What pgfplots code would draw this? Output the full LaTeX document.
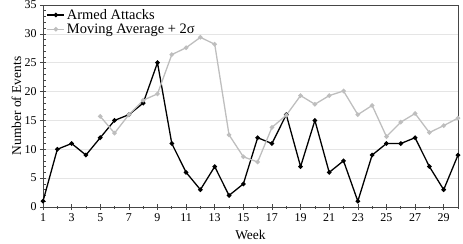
\documentclass[border=0pt]{standalone}
\usepackage{pgfplots}
\pgfplotsset{compat=1.18}
\usepackage{fontspec}
\setmainfont{Liberation Serif}
\definecolor{mavg}{RGB}{190,190,190}
\definecolor{axc}{RGB}{70,70,70}
\begin{document}
\begin{tikzpicture}
\begin{axis}[
  scale only axis,
  width=415bp, height=202bp,
  xmin=1, xmax=30, ymin=0, ymax=35,
  xtick={1,3,...,29},
  minor xtick={2,4,...,30},
  ytick={0,5,...,35},
  minor ytick={0,1,...,35},
  ymajorgrids,
  major grid style={draw=black!10, line width=0.6pt},
  axis line style={draw=axc, line width=0.8pt},
  tick style={draw=axc, line width=0.6pt},
  major tick length=6bp,
  minor tick length=3bp,
  xtick align=center,
  ytick align=center,
  minor y tick style={/pgfplots/tick align=inside},
  xtick pos=bottom, ytick pos=left,
  /pgf/number format/assume math mode=true,
  tick label style={font=\fontsize{12}{13}\selectfont},
  label style={font=\fontsize{13.5}{15}\selectfont},
  xlabel={Week}, ylabel={Number of Events},
  xlabel style={at={(axis description cs:0.5,-0.139)}, anchor=center},
  ylabel style={at={(axis description cs:-0.064,0.5)}, anchor=center},
  legend style={draw=none, fill=none, at={(0.006,0.995)}, anchor=north west,
    font=\fontsize{14.5}{15.5}\selectfont, inner sep=1pt, row sep=-1pt},
  legend cell align=left,
]
\coordinate (sw) at (rel axis cs:0,0);
\coordinate (ne) at (rel axis cs:1,1);
\addplot[black, line width=1.3pt, mark=*, mark size=1.6pt] coordinates {
(1,1)(2,10)(3,11)(4,9)(5,12)(6,15)(7,16)(8,18)(9,25)(10,11)
(11,6)(12,3)(13,7)(14,2)(15,4)(16,12)(17,11)(18,16)(19,7)(20,15)
(21,6)(22,8)(23,1)(24,9)(25,11)(26,11)(27,12)(28,7)(29,3)(30,9)};
\addlegendentry{Armed Attacks}
\addplot[mavg, line width=1.3pt, mark=*, mark size=1.6pt] coordinates {
(5,15.7)(6,12.8)(7,16)(8,18.5)(9,19.6)(10,26.4)(11,27.6)(12,29.4)(13,28.2)(14,12.5)
(15,8.7)(16,7.8)(17,13.8)(18,15.9)(19,19.3)(20,17.8)(21,19.3)(22,20.1)(23,16.0)(24,17.6)
(25,12.2)(26,14.7)(27,16.2)(28,12.9)(29,14.1)(30,15.4)};
\addlegendentry{Moving Average + 2σ}
\end{axis}
\pgfresetboundingbox
\path[use as bounding box] ([shift={(-43bp,-37bp)}]sw) rectangle ([shift={(5bp,5bp)}]ne);
\end{tikzpicture}
\end{document}
